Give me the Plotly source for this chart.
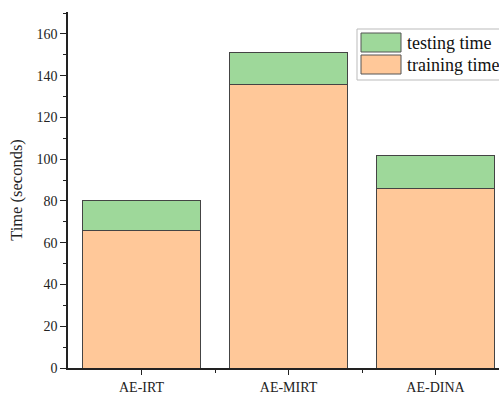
import plotly.graph_objects as go

categories = ["AE-IRT", "AE-MIRT", "AE-DINA"]
training_time = [66, 136, 86]
testing_time = [14, 15, 16]
series_names = ["training time", "testing time"]
colors = {"training time": "#FFC899", "testing time": "#9ED89A"}
y_ticks = [0, 20, 40, 60, 80, 100, 120, 140, 160]

W, H = 499, 394
L, T, B, R = 68, 12, 394 - 368, 0
pw, ph = W - L - R, H - T - B

def px(x):
    return (x - L) / pw

def py(y):
    return (H - B - y) / ph

xpos = list(range(len(categories)))
font = "Liberation Serif, Times New Roman, serif"

fig = go.Figure()
fig.add_trace(go.Bar(x=xpos, y=training_time, name=series_names[0], width=0.8,
                     marker=dict(color=colors["training time"], line=dict(color="#444", width=1))))
fig.add_trace(go.Bar(x=xpos, y=testing_time, name=series_names[1], width=0.8,
                     marker=dict(color=colors["testing time"], line=dict(color="#444", width=1))))

# manual legend
shapes = [
    dict(type="rect", xref="paper", yref="paper", x0=px(357), x1=px(510), y0=py(80), y1=py(29),
         line=dict(color="#bbbbbb", width=1), fillcolor="white", layer="above"),
    dict(type="rect", xref="paper", yref="paper", x0=px(361), x1=px(401), y0=py(52), y1=py(33),
         line=dict(color="#555", width=1), fillcolor=colors["testing time"], layer="above"),
    dict(type="rect", xref="paper", yref="paper", x0=px(361), x1=px(401), y0=py(74), y1=py(55),
         line=dict(color="#555", width=1), fillcolor=colors["training time"], layer="above"),
]
annotations = [
    dict(text="testing time", xref="paper", yref="paper", x=px(405), y=py(43), xanchor="left",
         yanchor="middle", showarrow=False, font=dict(family=font, size=18, color="#111")),
    dict(text="training time", xref="paper", yref="paper", x=px(405), y=py(65), xanchor="left",
         yanchor="middle", showarrow=False, font=dict(family=font, size=18, color="#111")),
]

fig.update_layout(
    width=W, height=H,
    margin=dict(l=L, r=R, t=T, b=B, pad=0, autoexpand=False),
    barmode="stack",
    showlegend=False,
    hovermode=False,
    plot_bgcolor="white", paper_bgcolor="white",
    font=dict(family=font, size=14, color="#222"),
    shapes=shapes, annotations=annotations,
    xaxis=dict(range=[-0.5, -0.5 + pw / 147], tickmode="array", tickvals=xpos, ticktext=categories,
               showline=True, linecolor="#222", linewidth=1.5, ticks="outside", ticklen=5,
               tickcolor="#222", showgrid=False, zeroline=False,
               minor=dict(tickmode="array", tickvals=[0.5, 1.5], ticks="outside", ticklen=3,
                          tickcolor="#222", showgrid=False),
               tickfont=dict(size=14)),
    yaxis=dict(range=[0, 170.5], tickmode="array", tickvals=y_ticks, showline=True,
               linecolor="#222", linewidth=1.5, ticks="outside", ticklen=6, tickcolor="#222",
               showgrid=False, zeroline=False,
               minor=dict(dtick=10, ticks="outside", ticklen=3, tickcolor="#222", showgrid=False),
               title=dict(text="Time (seconds)", font=dict(size=16.5), standoff=10),
               tickfont=dict(size=14)),
)

fig.write_html(
    "out.html",
    config={"displayModeBar": False},
    post_script="document.body.style.margin='0';document.body.style.overflow='hidden';",
)
